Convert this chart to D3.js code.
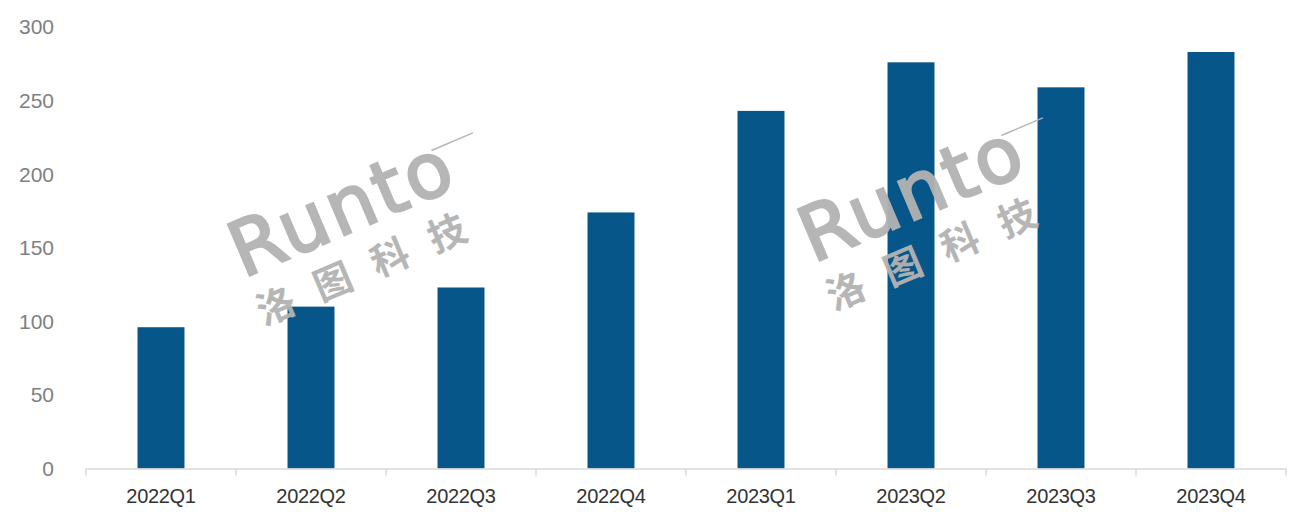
<!DOCTYPE html>
<html>
<head>
<meta charset="utf-8">
<script src="https://cdn.jsdelivr.net/npm/d3@7"></script>
<style>
  body { margin: 0; background: #fff; }
  svg { display: block; }
</style>
</head>
<body>
<div id="chart"></div>
<script>
// Quarterly values
const quarters = ['2022Q1', '2022Q2', '2022Q3', '2022Q4', '2023Q1', '2023Q2', '2023Q3', '2023Q4'];
const values = [96, 110, 123, 174, 243, 276, 259, 283];
const yTicks = [0, 50, 100, 150, 200, 250, 300];

const width = 1299;
const height = 519;

const svg = d3.select('#chart')
  .append('svg')
  .attr('width', width)
  .attr('height', height);

// Scales
const xScale = d3.scaleBand()
  .domain(quarters)
  .range([86, 1286])
  .paddingInner(0.687)
  .paddingOuter(0.3435);

const xOuter = d3.scaleBand()
  .domain(quarters)
  .range([86, 1286]);

const yScale = d3.scaleLinear()
  .domain([0, 300])
  .range([468.5, 27]);

// Y labels (no axis line)
svg.append('g')
  .selectAll('text')
  .data(yTicks)
  .join('text')
  .attr('x', 54)
  .attr('y', d => yScale(d))
  .attr('dy', '0.35em')
  .attr('text-anchor', 'end')
  .style('font-family', 'Liberation Sans, Arial, sans-serif')
  .style('font-size', '21px')
  .style('fill', '#7f7f7f')
  .text(d => d);

// Bars
svg.append('g')
  .selectAll('rect')
  .data(values)
  .join('rect')
  .attr('x', (d, i) => xScale(quarters[i]))
  .attr('y', d => yScale(d))
  .attr('width', xScale.bandwidth())
  .attr('height', d => yScale(0) - yScale(d))
  .attr('fill', '#07568a');

// X axis line and ticks between categories
const xAxis = svg.append('g');
xAxis.append('line')
  .attr('x1', 86).attr('x2', 1286)
  .attr('y1', yScale(0) + 0.5).attr('y2', yScale(0) + 0.5)
  .attr('stroke', '#d9d9d9')
  .attr('stroke-width', 1.5);

const boundaries = quarters.map(q => xOuter(q)).concat([xOuter.range()[1]]);
xAxis.selectAll('.tick')
  .data(boundaries)
  .join('line')
  .attr('x1', d => d).attr('x2', d => d)
  .attr('y1', yScale(0)).attr('y2', yScale(0) + 7)
  .attr('stroke', '#d9d9d9')
  .attr('stroke-width', 1.5);

xAxis.selectAll('text')
  .data(quarters)
  .join('text')
  .attr('x', d => xOuter(d) + xOuter.bandwidth() / 2)
  .attr('y', 503)
  .attr('text-anchor', 'middle')
  .style('font-family', 'Liberation Sans, Arial, sans-serif')
  .style('font-size', '20px')
  .style('letter-spacing', '-0.3px')
  .style('fill', '#333333')
  .text(d => d);

// Watermarks
function watermark(cx, cy) {
  const g = svg.append('g')
    .attr('transform', `translate(${cx},${cy}) rotate(-23)`)
    .style('fill', '#b3b3b3')
    .style('opacity', 0.95);
  g.append('text')
    .attr('x', 0).attr('y', 0)
    .attr('text-anchor', 'middle')
    .style('font-family', 'DejaVu Sans, sans-serif')
    .style('font-size', '76px')
    .style('letter-spacing', '3px')
    .style('stroke', '#b3b3b3')
    .style('stroke-width', '2.5px')
    .text('Runto');
  g.append('line')
    .attr('x1', 105).attr('y1', -44)
    .attr('x2', 150).attr('y2', -44)
    .attr('stroke', '#b3b3b3')
    .attr('stroke-width', 1.5);
  g.append('text')
    .attr('x', 6).attr('y', 52)
    .attr('text-anchor', 'middle')
    .style('font-family', 'Noto Sans CJK SC, sans-serif')
    .style('font-weight', 'bold')
    .style('font-size', '38px')
    .style('letter-spacing', '24px')
    .text('洛图科技');
}
watermark(352, 232);
watermark(922, 217);
</script>
</body>
</html>
